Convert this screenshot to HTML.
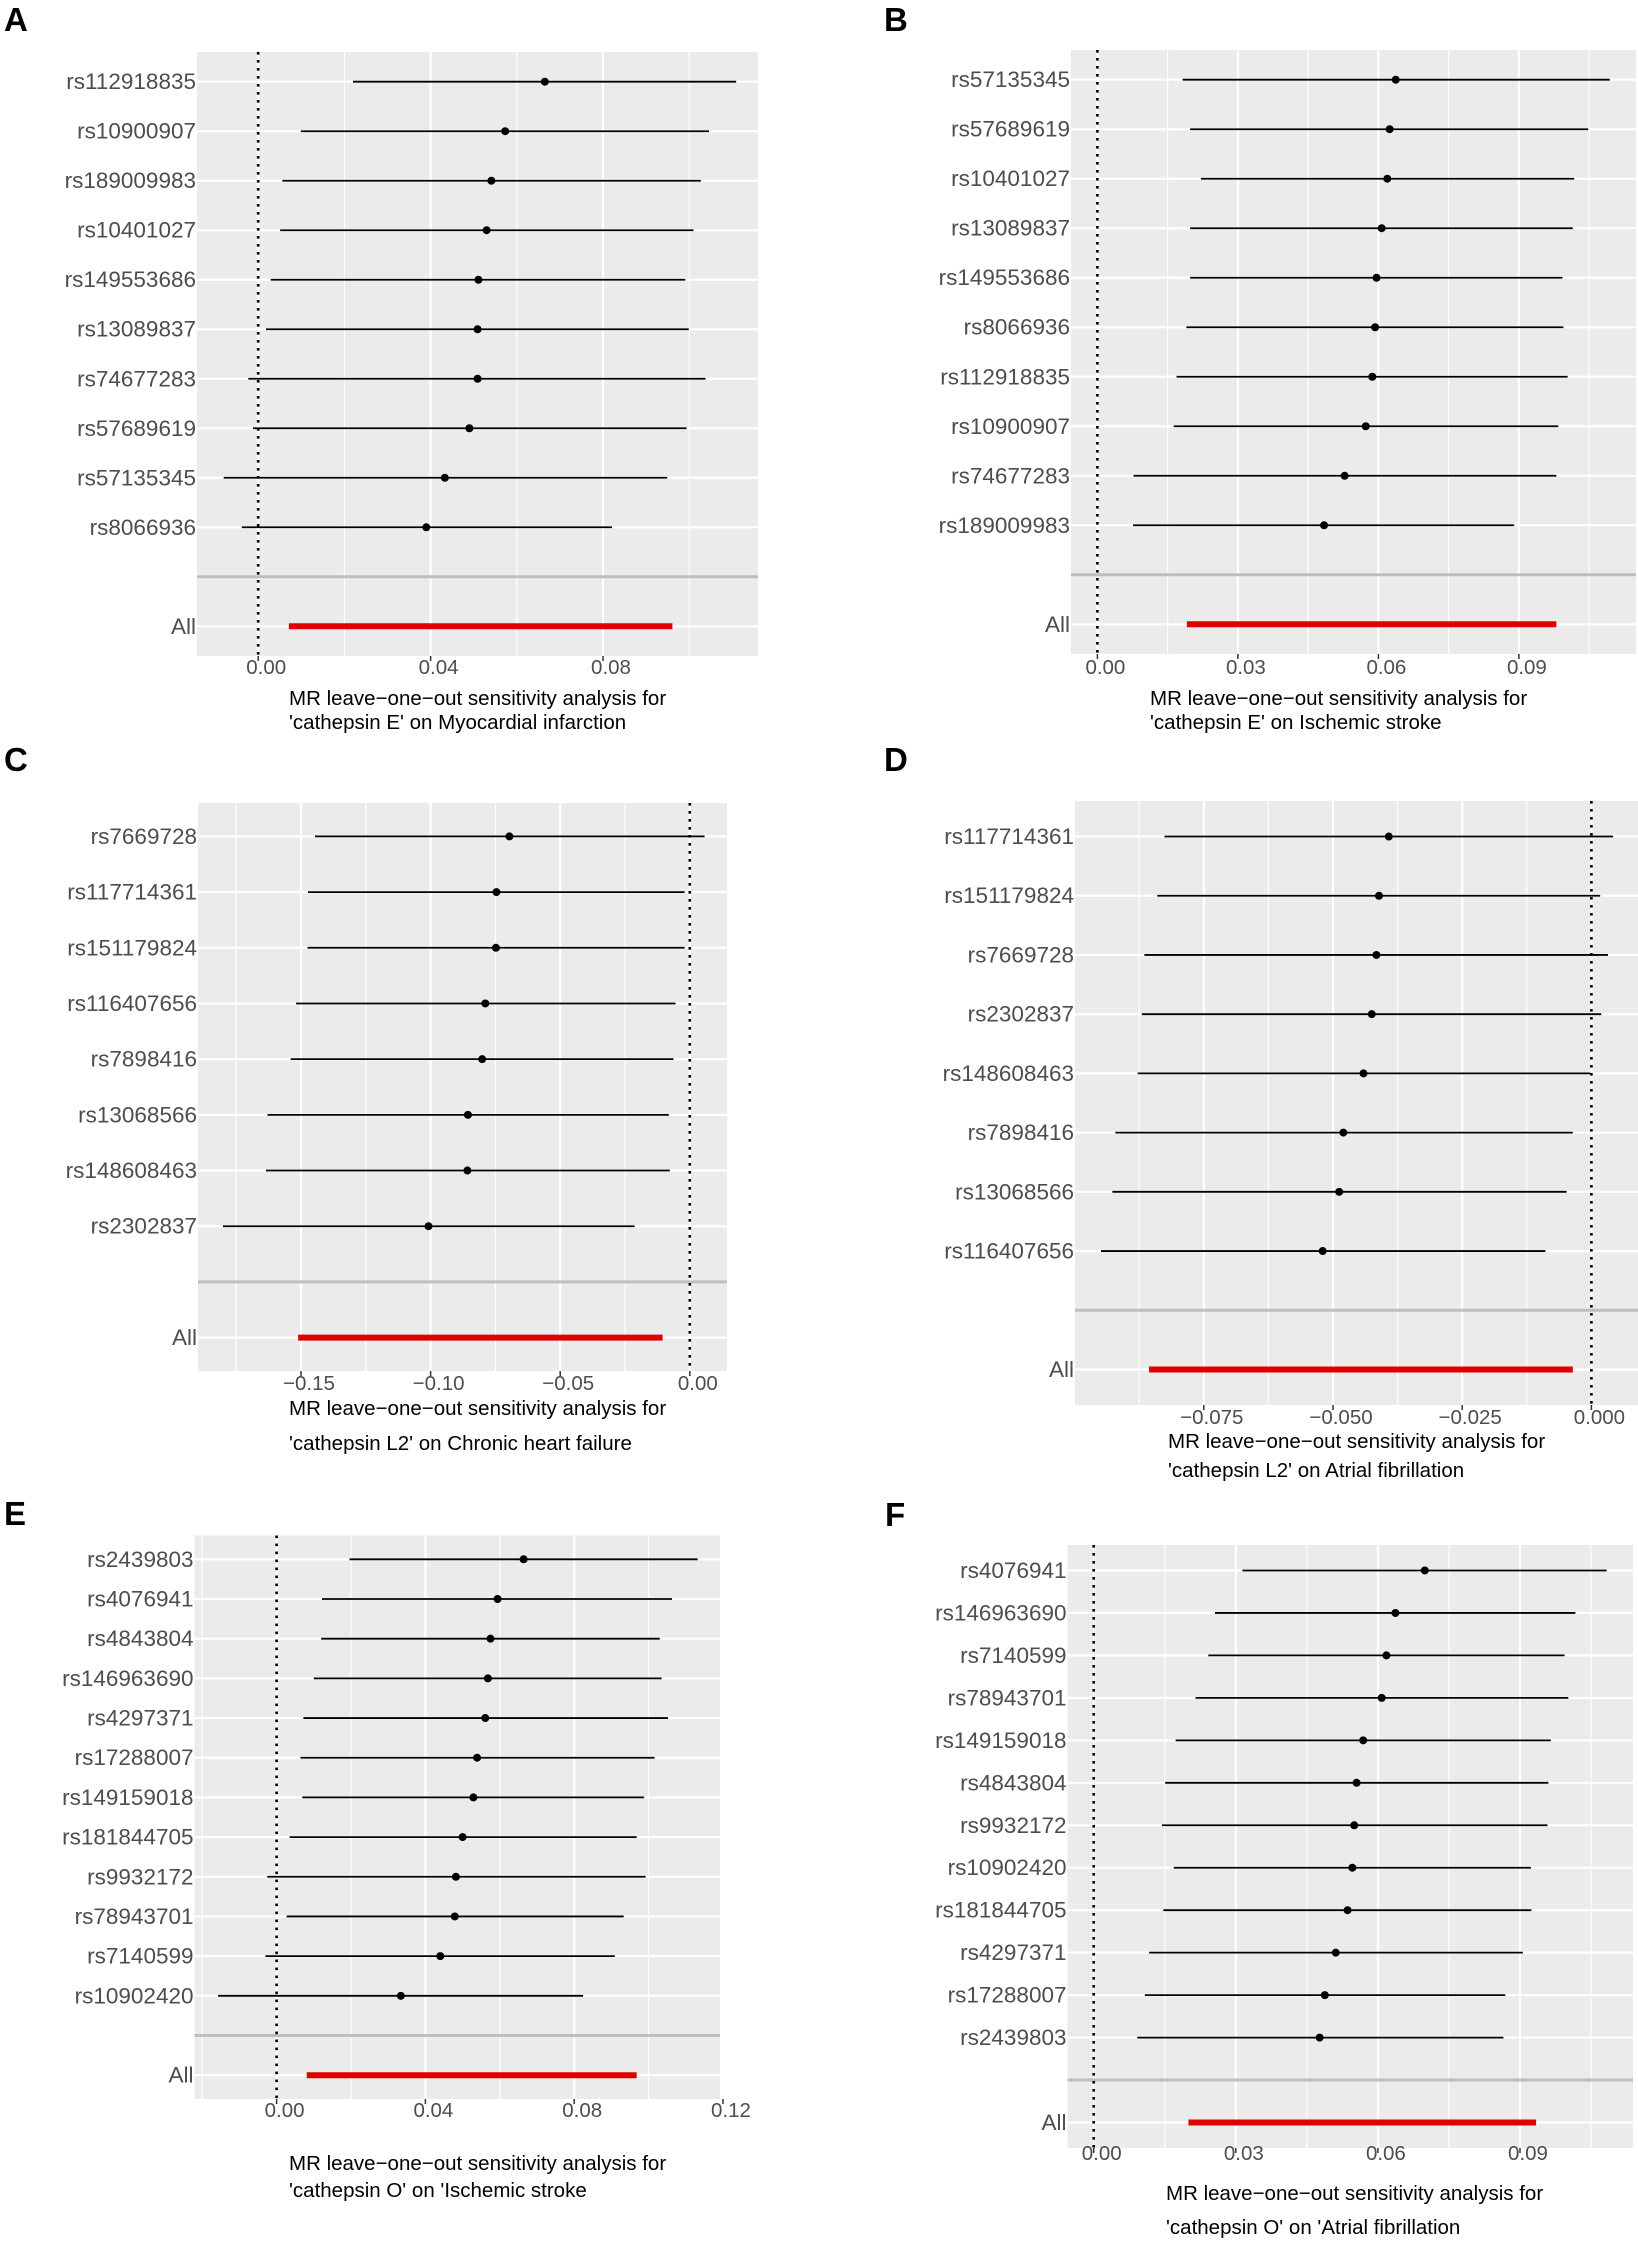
<!DOCTYPE html>
<html><head><meta charset="utf-8">
<style>
html,body{margin:0;padding:0;background:#fff;}
svg{display:block;font-family:"Liberation Sans",Arial,sans-serif;}
</style></head>
<body>
<svg id="fig" width="1638" height="2246" viewBox="0 0 1638 2246" xmlns="http://www.w3.org/2000/svg"></svg>
<script>
// ---------- data ----------
const snpsA = ["rs112918835","rs10900907","rs189009983","rs10401027","rs149553686","rs13089837","rs74677283","rs57689619","rs57135345","rs8066936"];
const estA = [0.0665,0.0573,0.0541,0.0530,0.0511,0.0509,0.0509,0.0490,0.0433,0.0390];
const loA  = [0.0220,0.0099,0.0056,0.0051,0.0029,0.0018,-0.0023,-0.0012,-0.0080,-0.0038];
const hiA  = [0.1109,0.1046,0.1027,0.1010,0.0991,0.0999,0.1038,0.0994,0.0949,0.0821];
const allA = [0.0516,0.0071,0.0961];
const ticksA = [0,0.04,0.08];
const tickLabA = ["0.00","0.04","0.08"];

const snpsB = ["rs57135345","rs57689619","rs10401027","rs13089837","rs149553686","rs8066936","rs112918835","rs10900907","rs74677283","rs189009983"];
const estB = [0.0637,0.0624,0.0619,0.0607,0.0596,0.0593,0.0587,0.0573,0.0528,0.0484];
const loB  = [0.0182,0.0198,0.0221,0.0198,0.0198,0.0190,0.0169,0.0163,0.0077,0.0076];
const hiB  = [0.1094,0.1048,0.1018,0.1015,0.0993,0.0995,0.1004,0.0984,0.0980,0.0890];
const allB = [0.0584,0.0191,0.0980];
const ticksB = [0,0.03,0.06,0.09];
const tickLabB = ["0.00","0.03","0.06","0.09"];

const snpsC = ["rs7669728","rs117714361","rs151179824","rs116407656","rs7898416","rs13068566","rs148608463","rs2302837"];
const estC = [-0.0696,-0.0746,-0.0748,-0.0789,-0.0801,-0.0856,-0.0858,-0.1008];
const loC  = [-0.1446,-0.1473,-0.1475,-0.1519,-0.1540,-0.1629,-0.1635,-0.1801];
const hiC  = [0.0057,-0.0020,-0.0020,-0.0055,-0.0063,-0.0081,-0.0077,-0.0213];
const allC = [-0.0810,-0.1511,-0.0105];
const ticksC = [-0.15,-0.10,-0.05,0];
const tickLabC = ["\u22120.15","\u22120.10","\u22120.05","0.00"];

const snpsD = ["rs117714361","rs151179824","rs7669728","rs2302837","rs148608463","rs7898416","rs13068566","rs116407656"];
const estD = [-0.0392,-0.0411,-0.0416,-0.0425,-0.0441,-0.0480,-0.0488,-0.0520];
const loD  = [-0.0826,-0.0840,-0.0865,-0.0870,-0.0878,-0.0921,-0.0927,-0.0949];
const hiD  = [0.0042,0.0017,0.0032,0.0019,-0.0002,-0.0036,-0.0048,-0.0089];
const allD = [-0.0447,-0.0856,-0.0036];
const ticksD = [-0.075,-0.05,-0.025,0];
const tickLabD = ["\u22120.075","\u22120.050","\u22120.025","0.000"];

const snpsE = ["rs2439803","rs4076941","rs4843804","rs146963690","rs4297371","rs17288007","rs149159018","rs181844705","rs9932172","rs78943701","rs7140599","rs10902420"];
const estE = [0.0664,0.0594,0.0575,0.0568,0.0561,0.0539,0.0529,0.0500,0.0482,0.0479,0.0440,0.0334];
const loE  = [0.0196,0.0122,0.0120,0.0100,0.0072,0.0064,0.0069,0.0035,-0.0025,0.0027,-0.0030,-0.0157];
const hiE  = [0.1132,0.1063,0.1030,0.1035,0.1052,0.1016,0.0988,0.0968,0.0992,0.0933,0.0909,0.0824];
const allE = [0.0524,0.0081,0.0968];
const ticksE = [0,0.04,0.08,0.12];
const tickLabE = ["0.00","0.04","0.08","0.12"];

const snpsF = ["rs4076941","rs146963690","rs7140599","rs78943701","rs149159018","rs4843804","rs9932172","rs10902420","rs181844705","rs4297371","rs17288007","rs2439803"];
const estF = [0.0699,0.0637,0.0618,0.0608,0.0569,0.0555,0.0550,0.0546,0.0536,0.0511,0.0488,0.0477];
const loF  = [0.0314,0.0256,0.0242,0.0215,0.0173,0.0151,0.0144,0.0169,0.0147,0.0117,0.0108,0.0092];
const hiF  = [0.1083,0.1017,0.0994,0.1002,0.0965,0.0960,0.0958,0.0923,0.0924,0.0906,0.0869,0.0865];
const allF = [0.0568,0.0200,0.0934];
const ticksF = [0,0.03,0.06,0.09];
const tickLabF = ["0.00","0.03","0.06","0.09"];

// ---------- layout ----------
const NS = "http://www.w3.org/2000/svg";
const svg = document.getElementById('fig');
function mk(tag, attrs, parent){
  const e = document.createElementNS(NS, tag);
  for (const k in attrs) e.setAttribute(k, attrs[k]);
  (parent||svg).appendChild(e);
  return e;
}

const panels = [
 {id:'a', letter:'A', lx:4, ly:31, x0:197, x1:758, y0:52, y1:656, zero:258.2, unit:86.2/0.02, step:0.02,
  snps:snpsA, est:estA, lo:loA, hi:hiA, all:allA, ticks:ticksA, tl:tickLabA, tly:667,
  title:["MR leave\u2212one\u2212out sensitivity analysis for","'cathepsin E' on Myocardial infarction"], tx:289, ty:[698,722]},
 {id:'b', letter:'B', lx:884, ly:31, x0:1071, x1:1636, y0:50, y1:654, zero:1097.4, unit:140.5/0.03, step:0.015,
  snps:snpsB, est:estB, lo:loB, hi:hiB, all:allB, ticks:ticksB, tl:tickLabB, tly:667,
  title:["MR leave\u2212one\u2212out sensitivity analysis for","'cathepsin E' on Ischemic stroke"], tx:1150, ty:[698,722]},
 {id:'c', letter:'C', lx:4, ly:771, x0:198, x1:727, y0:803, y1:1371, zero:689.8, unit:129.6/0.05, step:0.025,
  snps:snpsC, est:estC, lo:loC, hi:hiC, all:allC, ticks:ticksC, tl:tickLabC, tly:1383,
  title:["MR leave\u2212one\u2212out sensitivity analysis for","'cathepsin L2' on Chronic heart failure"], tx:289, ty:[1408,1443]},
 {id:'d', letter:'D', lx:884, ly:771, x0:1075, x1:1638, y0:801, y1:1405, zero:1591.4, unit:129.2/0.025, step:0.0125,
  snps:snpsD, est:estD, lo:loD, hi:hiD, all:allD, ticks:ticksD, tl:tickLabD, tly:1417,
  title:["MR leave\u2212one\u2212out sensitivity analysis for","'cathepsin L2' on Atrial fibrillation"], tx:1168, ty:[1441,1470]},
 {id:'e', letter:'E', lx:4, ly:1525, x0:194.5, x1:720, y0:1535.5, y1:2099, zero:276.6, unit:148.8/0.04, step:0.02,
  snps:snpsE, est:estE, lo:loE, hi:hiE, all:allE, ticks:ticksE, tl:tickLabE, tly:2110,
  title:["MR leave\u2212one\u2212out sensitivity analysis for","'cathepsin O' on 'Ischemic stroke"], tx:289, ty:[2163,2190]},
 {id:'f', letter:'F', lx:885, ly:1526, x0:1067.5, x1:1633, y0:1545, y1:2148, zero:1093.7, unit:142.1/0.03, step:0.015,
  snps:snpsF, est:estF, lo:loF, hi:hiF, all:allF, ticks:ticksF, tl:tickLabF, tly:2153,
  title:["MR leave\u2212one\u2212out sensitivity analysis for","'cathepsin O' on 'Atrial fibrillation"], tx:1166, ty:[2193,2227]}
];

panels.forEach(p => {
  const g = mk('g', {});
  
  
  const xs = v => p.zero + v * p.unit;
  const n = p.snps.length;
  const rstep = (p.y1 - p.y0) / (n + 2.2);
  const ys = i => p.y0 + (0.6 + i) * rstep;

  const letter = mk('text', {x:p.lx, y:p.ly, 'font-size':33, 'font-weight':'bold', fill:'#000'}, g);
  letter.textContent = p.letter;
  
  

  const bg = mk('rect', {x:p.x0, y:p.y0, width:p.x1-p.x0, height:p.y1-p.y0, fill:'#ebebeb'}, g);
  
  

  const vmin = (p.x0 - p.zero) / p.unit, vmax = (p.x1 - p.zero) / p.unit;
  const k0 = Math.ceil(vmin / p.step - 1e-6), k1 = Math.floor(vmax / p.step + 1e-6);
  for (let k = k0; k <= k1; k++) {
    const major = (k % 2 === 0);
    const gx = xs(k * p.step);
    const gl = mk('line', {x1:gx, x2:gx, y1:p.y0, y2:p.y1, stroke:'#fff', 'stroke-width': major ? 2.2 : 1.1}, g);
    
    
  }
  for (let i = 0; i < n + 2; i++) {
    if (i === n) continue;
    const hl = mk('line', {x1:p.x0, x2:p.x1, y1:ys(i), y2:ys(i), stroke:'#fff', 'stroke-width':2.2}, g);
    
    
  }
  const sep = mk('line', {x1:p.x0, x2:p.x1, y1:ys(n), y2:ys(n), stroke:'#bebebe', 'stroke-width':3}, g);
  
  
  const zl = mk('line', {x1:xs(0), x2:xs(0), y1:p.y0, y2:p.y1, stroke:'#000', 'stroke-width':2.6, 'stroke-dasharray':'2.6 5.4'}, g);
  
  

  p.snps.forEach((s, i) => {
    const y = ys(i);
    const lab = mk('text', {x:p.x0 - 1, y:y + 7.5, 'font-size':22.5, fill:'#4d4d4d', 'text-anchor':'end'}, g);
    lab.textContent = s;
    
    
    const ln = mk('line', {x1:xs(p.lo[i]), x2:xs(p.hi[i]), y1:y, y2:y, stroke:'#000', 'stroke-width':1.8}, g);
    
    
    const c = mk('circle', {cx:xs(p.est[i]), cy:y, r:4, fill:'#000'}, g);
    
    
  });
  const ya = ys(n + 1);
  const al = mk('text', {x:p.x0 - 1, y:ya + 7.5, 'font-size':22.5, fill:'#4d4d4d', 'text-anchor':'end'}, g);
  al.textContent = 'All';
  
  
  const rl = mk('line', {x1:xs(p.all[1]), x2:xs(p.all[2]), y1:ya, y2:ya, stroke:'#e00000', 'stroke-width':6}, g);
  
  
  const rc = mk('circle', {cx:xs(p.all[0]), cy:ya, r:2.5, fill:'#e00000'}, g);
  
  

  p.ticks.forEach((t, j) => {
    const tx = xs(t);
    const tk = mk('line', {x1:tx, x2:tx, y1:p.y1, y2:p.y1 + 5, stroke:'#333', 'stroke-width':1.5}, g);
    
    
    const tt = mk('text', {x:tx + 8, y:p.tly + 7, 'font-size':20.5, fill:'#4d4d4d', 'text-anchor':'middle'}, g);
    tt.textContent = p.tl[j];
    
    
  });

  p.title.forEach((line, j) => {
    const at = mk('text', {x:p.tx, y:p.ty[j] + 7, 'font-size':20.5, fill:'#000'}, g);
    at.textContent = line;
    
    
  });
});
</script>
</body></html>
